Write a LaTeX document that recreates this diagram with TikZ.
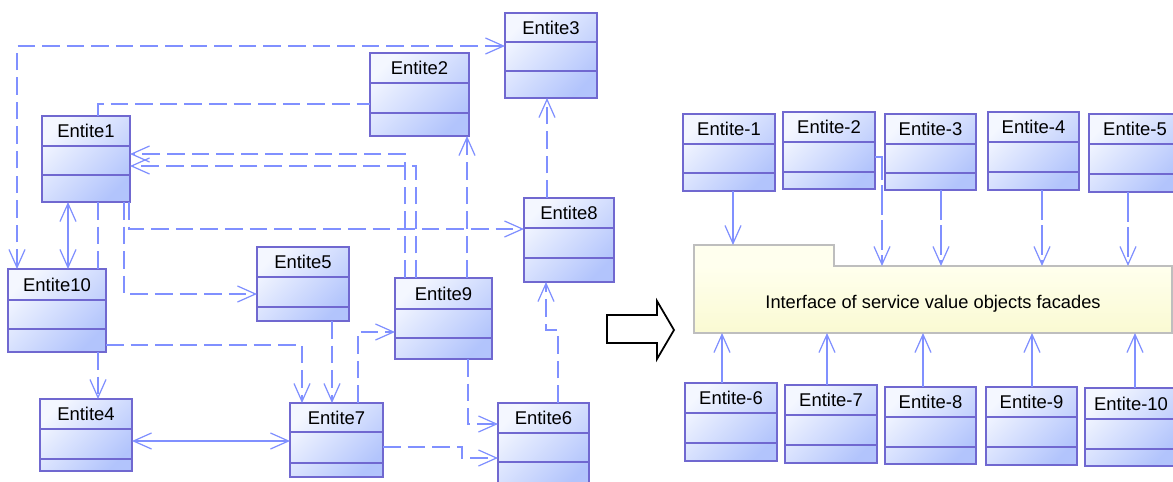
\documentclass[tikz,border=0pt]{standalone}
\usepackage{fontspec}
\setmainfont{Liberation Sans}
\usetikzlibrary{arrows.meta, calc}
\definecolor{cLink}{RGB}{128,144,255}
\definecolor{cBorder}{RGB}{112,104,208}
\definecolor{cBoxLt}{RGB}{244,247,255}
\definecolor{cBoxDk}{RGB}{178,196,252}
\definecolor{cIvory}{RGB}{255,255,238}
\definecolor{cIvoryDk}{RGB}{250,250,210}
\definecolor{cFrame}{RGB}{190,190,190}
\tikzset{
	ent/.style     ={rectangle, anchor=north west, draw=cBorder, line width=0.9pt, top color=cBoxLt, bottom color=cBoxDk, shading angle=45, inner sep=0pt, outer sep=0pt},
	entrule/.style ={draw=cBorder, line width=0.9pt},
	enttitle/.style={font=\fontsize{10.5}{12}\selectfont, text=black, inner sep=0pt},
	% connectors
	link/.style    ={draw=cLink, line width=0.7pt},
	dep/.style     ={link, dash pattern=on 10pt off 4pt},
	deplong/.style ={link, dash pattern=on 17pt off 3pt},
	% facade box
	ifacebody/.style={rectangle, anchor=north west, minimum width={478*0.02cm}, minimum height={67*0.02cm}, top color=cIvory, bottom color=cIvoryDk, inner sep=0pt, outer sep=0pt, text height=12.5pt, text depth=2.2pt, font=\fontsize{10.4}{12}\selectfont},
	ifacetab/.style ={rectangle, anchor=north west, minimum width={140*0.02cm}, minimum height={21*0.02cm}, fill=cIvory, inner sep=0pt, outer sep=0pt},
	ifaceframe/.style={draw=cFrame, line width=0.9pt},
	bigarrow/.style ={draw=black, fill=white, line width=1pt, line join=miter},
}
% class box: name, title, x1, y1, x2, y2, first rule, second rule
\newcommand{\entbox}[8]{%
	\node[ent, minimum width={(#5-#3)*0.02cm}, minimum height={(#6-#4)*0.02cm}] (#1) at (#3,#4) {};
	\draw[entrule] (#3,#7) -- (#5,#7) (#3,#8) -- (#5,#8);
	\node[enttitle] at ({(#3+#5)/2},{(#4+#7)/2}) {#2};
}

\begin{document}
\begin{tikzpicture}[x=0.02cm, y=-0.02cm, >={Straight Barb[length=3.6mm, width=3.2mm]}]
	\useasboundingbox (0,0) rectangle (1173,481);

	% left: entities with direct dependencies
	\entbox{e1}{Entite1}{42}{116}{130}{202}{146}{175}
	\entbox{e2}{Entite2}{370}{53}{469}{136}{83}{113}
	\entbox{e3}{Entite3}{505}{13}{597}{98}{42}{71}
	\entbox{e4}{Entite4}{40}{399}{132}{471}{429}{459}
	\entbox{e5}{Entite5}{257}{247}{349}{321}{277}{307}
	\entbox{e6}{Entite6}{498}{403}{589}{490}{433}{462}
	\entbox{e7}{Entite7}{290}{403}{383}{477}{432}{463}
	\entbox{e8}{Entite8}{524}{198}{614}{282}{228}{258}
	\entbox{e9}{Entite9}{395}{278}{492}{359}{309}{338}
	\entbox{e10}{Entite10}{8}{269}{106}{352}{300}{329}

	\draw[dep, <->] (e10.north -| 17,0) |- (e3.west |- 0,46);
	\draw[dep] (e1.north -| 98,0) |- (e2.west |- 0,104);
	\draw[dep, ->] (e9.north -| 405,0) |- (e1.east |- 0,154);
	\draw[dep, ->] (e9.north -| 416,0) |- (e1.east |- 0,166);
	\draw[dep, ->] (e1.south -| 129,0) |- (e8.west |- 0,229);
	\draw[link, <->] (e1.south -| 68,0) -- (e10.north -| 68,0);
	\draw[dep] (e1.south -| 98,0) -- (e10.north -| 98,0);
	\draw[dep, ->] (e1.south -| 124,0) |- (e5.west |- 0,294);
	\draw[dep, ->] (e10.east |- 0,345) -| (e7.north -| 302,0);
	\draw[dep, ->] (e10.south -| 98,0) -- (e4.north -| 98,0);
	\draw[link, <->] (e4.east |- 0,441) -- (e7.west |- 0,441);
	\draw[dep, ->] (e5.south -| 332,0) -- (e7.north -| 332,0);
	\draw[dep, ->] (e7.north -| 358,0) |- (e9.west |- 0,332);
	\draw[dep, ->] (e9.north -| 467,0) -- (e2.south -| 467,0);
	\draw[dep, ->] (e9.south -| 468,0) |- (e6.west |- 0,424);
	\draw[dep, ->] (e7.east |- 0,447) -- ++(79,0) |- (e6.west |- 0,458);
	\draw[dep, ->] (e6.north -| 558,0) -- ++(0,-73) -| (e8.south -| 546,0);
	\draw[dep, ->] (e8.north -| 547,0) -- (e3.south -| 547,0);

	\draw[bigarrow] (607,315) -- (657,315) -- (657,301) -- (674,330) -- (657,359) -- (657,343) -- (607,343) -- cycle;

	% right: entities behind one facade
	\node[ifacebody] (iface) at (694,266) {Interface of service value objects facades};
	\node[ifacetab] (itab) at (694,245) {};
	\draw[ifaceframe] (iface.south west) |- (itab.north east) |- (iface.north east) -- (iface.south east) -- cycle;

	\entbox{r1}{Entite-1}{683}{114}{775}{191}{144}{173}
	\entbox{r2}{Entite-2}{783}{112}{875}{189}{142}{172}
	\entbox{r3}{Entite-3}{885}{114}{976}{190}{144}{173}
	\entbox{r4}{Entite-4}{988}{112}{1079}{190}{142}{172}
	\entbox{r5}{Entite-5}{1089}{114}{1181}{192}{144}{174}
	\entbox{r6}{Entite-6}{685}{383}{777}{461}{413}{443}
	\entbox{r7}{Entite-7}{785}{385}{877}{463}{415}{445}
	\entbox{r8}{Entite-8}{885}{387}{976}{464}{417}{447}
	\entbox{r9}{Entite-9}{986}{387}{1077}{465}{417}{447}
	\entbox{r10}{Entite-10}{1085}{388}{1177}{466}{419}{449}

	\draw[link, ->] (r1.south -| 733,0) -- (itab.north -| 733,0);
	\draw[deplong, ->] (r2.east |- 0,157) -| (iface.north -| 882,0);
	\draw[deplong, ->] (r3.south -| 941,0) -- (iface.north -| 941,0);
	\draw[deplong, ->] (r4.south -| 1042,0) -- (iface.north -| 1042,0);
	\draw[deplong, ->] (r5.south -| 1128,0) -- (iface.north -| 1128,0);
	\draw[link, ->] (r6.north -| 722,0) -- (iface.south -| 722,0);
	\draw[link, ->] (r7.north -| 827,0) -- (iface.south -| 827,0);
	\draw[link, ->] (r8.north -| 923,0) -- (iface.south -| 923,0);
	\draw[link, ->] (r9.north -| 1032,0) -- (iface.south -| 1032,0);
	\draw[link, ->] (r10.north -| 1135,0) -- (iface.south -| 1135,0);
\end{tikzpicture}
\end{document}
